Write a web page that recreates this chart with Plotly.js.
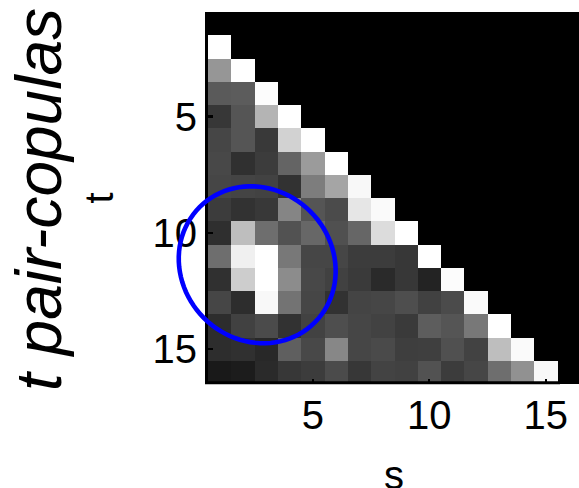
<!DOCTYPE html>
<html><head><meta charset="utf-8">
<script src="https://cdn.plot.ly/plotly-3.0.1.min.js"></script>
<style>html,body{margin:0;padding:0;background:#fff;overflow:hidden}#chart{width:579px;height:488px}</style>
</head><body><div id="chart"></div>
<script>
// index axes
const sValues = [1,2,3,4,5,6,7,8,9,10,11,12,13,14,15,16];
const tValues = [1,2,3,4,5,6,7,8,9,10,11,12,13,14,15,16];
const xTickVals = [5,10,15];
const yTickVals = [5,10,15];
const xTitle = 's';
const yTitle = 't';
const sideTitle = 't pair-copulas';

// grey level (0 = black, 255 = white) of each pair-copula cell, row t, columns s = 1..t-1
const row_t01 = [];
const row_t02 = [255];
const row_t03 = [150,255];
const row_t04 = [90,92,252];
const row_t05 = [55,85,180,255];
const row_t06 = [70,85,57,210,255];
const row_t07 = [72,48,60,100,155,255];
const row_t08 = [70,68,66,50,125,165,248];
const row_t09 = [60,50,56,133,85,75,230,250];
const row_t10 = [47,190,110,82,103,80,102,220,255];
const row_t11 = [110,240,255,120,70,70,60,60,55,255];
const row_t12 = [48,205,255,140,72,65,58,42,55,35,252];
const row_t13 = [70,45,248,115,70,50,68,70,78,65,75,250];
const row_t14 = [45,65,75,50,66,78,70,66,58,93,85,120,255];
const row_t15 = [45,48,40,95,72,135,70,74,62,63,80,66,190,250];
const row_t16 = [25,28,42,55,60,75,55,67,65,82,60,70,110,145,248];

const rows = [row_t01,row_t02,row_t03,row_t04,row_t05,row_t06,row_t07,row_t08,
              row_t09,row_t10,row_t11,row_t12,row_t13,row_t14,row_t15,row_t16];
const z = tValues.map((t,i) => sValues.map((s,j) => (j < rows[i].length ? rows[i][j] : 0)));

// layout geometry
const W = 579, H = 488;
const M = {l:208, r:0, t:12, b:104};
const plotW = W - M.l - M.r, plotH = H - M.t - M.b;
const FONT = '"Liberation Sans", Arial, Helvetica, sans-serif';

// blue ellipse (pixel centre / semi-axes / tilt)
const ell = {cx:257.2, cy:264.8, a:81.5, b:75.3, theta:45};
function pxToPaperX(px){ return (px - M.l) / plotW; }
function pxToPaperY(py){ return (M.t + plotH - py) / plotH; }
let path = '';
const th = ell.theta * Math.PI / 180;
for (let k = 0; k <= 96; k++) {
  const phi = 2 * Math.PI * k / 96;
  const X = ell.cx + ell.a * Math.cos(phi) * Math.cos(th) - ell.b * Math.sin(phi) * Math.sin(th);
  const Y = ell.cy + ell.a * Math.cos(phi) * Math.sin(th) + ell.b * Math.sin(phi) * Math.cos(th);
  path += (k === 0 ? 'M' : 'L') + pxToPaperX(X).toFixed(5) + ',' + pxToPaperY(Y).toFixed(5);
}
path += 'Z';

const trace = {
  type: 'heatmap', x: sValues, y: tValues, z: z,
  colorscale: [[0,'rgb(0,0,0)'],[1,'rgb(255,255,255)']],
  zmin: 0, zmax: 255, showscale: false, hoverinfo: 'skip'
};

const layout = {
  width: W, height: H, margin: M,
  paper_bgcolor: '#fff', plot_bgcolor: '#000',
  font: {family: FONT, color: '#000', size: 40},
  xaxis: {
    range: [0.5, 0.5 + plotW / 23.3], tickvals: xTickVals, ticktext: xTickVals.map(String),
    ticks: 'inside', ticklen: 5, tickwidth: 2, tickcolor: '#000',
    showline: false, showgrid: false, zeroline: false, ticklabelstandoff: 4,
    tickfont: {family: FONT, size: 40, color: '#000'}
  },
  yaxis: {
    range: [16.5, 0.5], tickvals: yTickVals, ticktext: yTickVals.map(String),
    ticks: 'inside', ticklen: 5, tickwidth: 2.5, tickcolor: '#000',
    showline: true, linewidth: 3, linecolor: '#000',
    showgrid: false, zeroline: false,
    tickfont: {family: FONT, size: 40, color: '#000'},
    title: {text: yTitle, font: {family: FONT, size: 40, color: '#000'}, standoff: 27}
  },
  shapes: [
    {type: 'line', xref: 'paper', yref: 'paper',
     x0: pxToPaperX(205), x1: pxToPaperX(560), y0: pxToPaperY(382.7), y1: pxToPaperY(382.7),
     line: {color: '#000', width: 3}},
    {type: 'path', xref: 'paper', yref: 'paper', path: path,
     line: {color: 'rgb(0,0,255)', width: 4.6}, fillcolor: 'rgba(0,0,0,0)'}
  ],
  annotations: [
    {text: xTitle, xref: 'paper', yref: 'paper',
     x: pxToPaperX(393.5), y: pxToPaperY(475), xanchor: 'center', yanchor: 'middle',
     showarrow: false, font: {family: FONT, size: 40, color: '#000'}},
    {text: sideTitle, xref: 'paper', yref: 'paper',
     x: pxToPaperX(39), y: pxToPaperY(200), xanchor: 'center', yanchor: 'middle',
     textangle: -90, showarrow: false,
     font: {family: FONT, size: 64, color: '#000', style: 'italic'}}
  ]
};

Plotly.newPlot('chart', [trace], layout, {displayModeBar: false, staticPlot: true});
</script>
</body></html>
